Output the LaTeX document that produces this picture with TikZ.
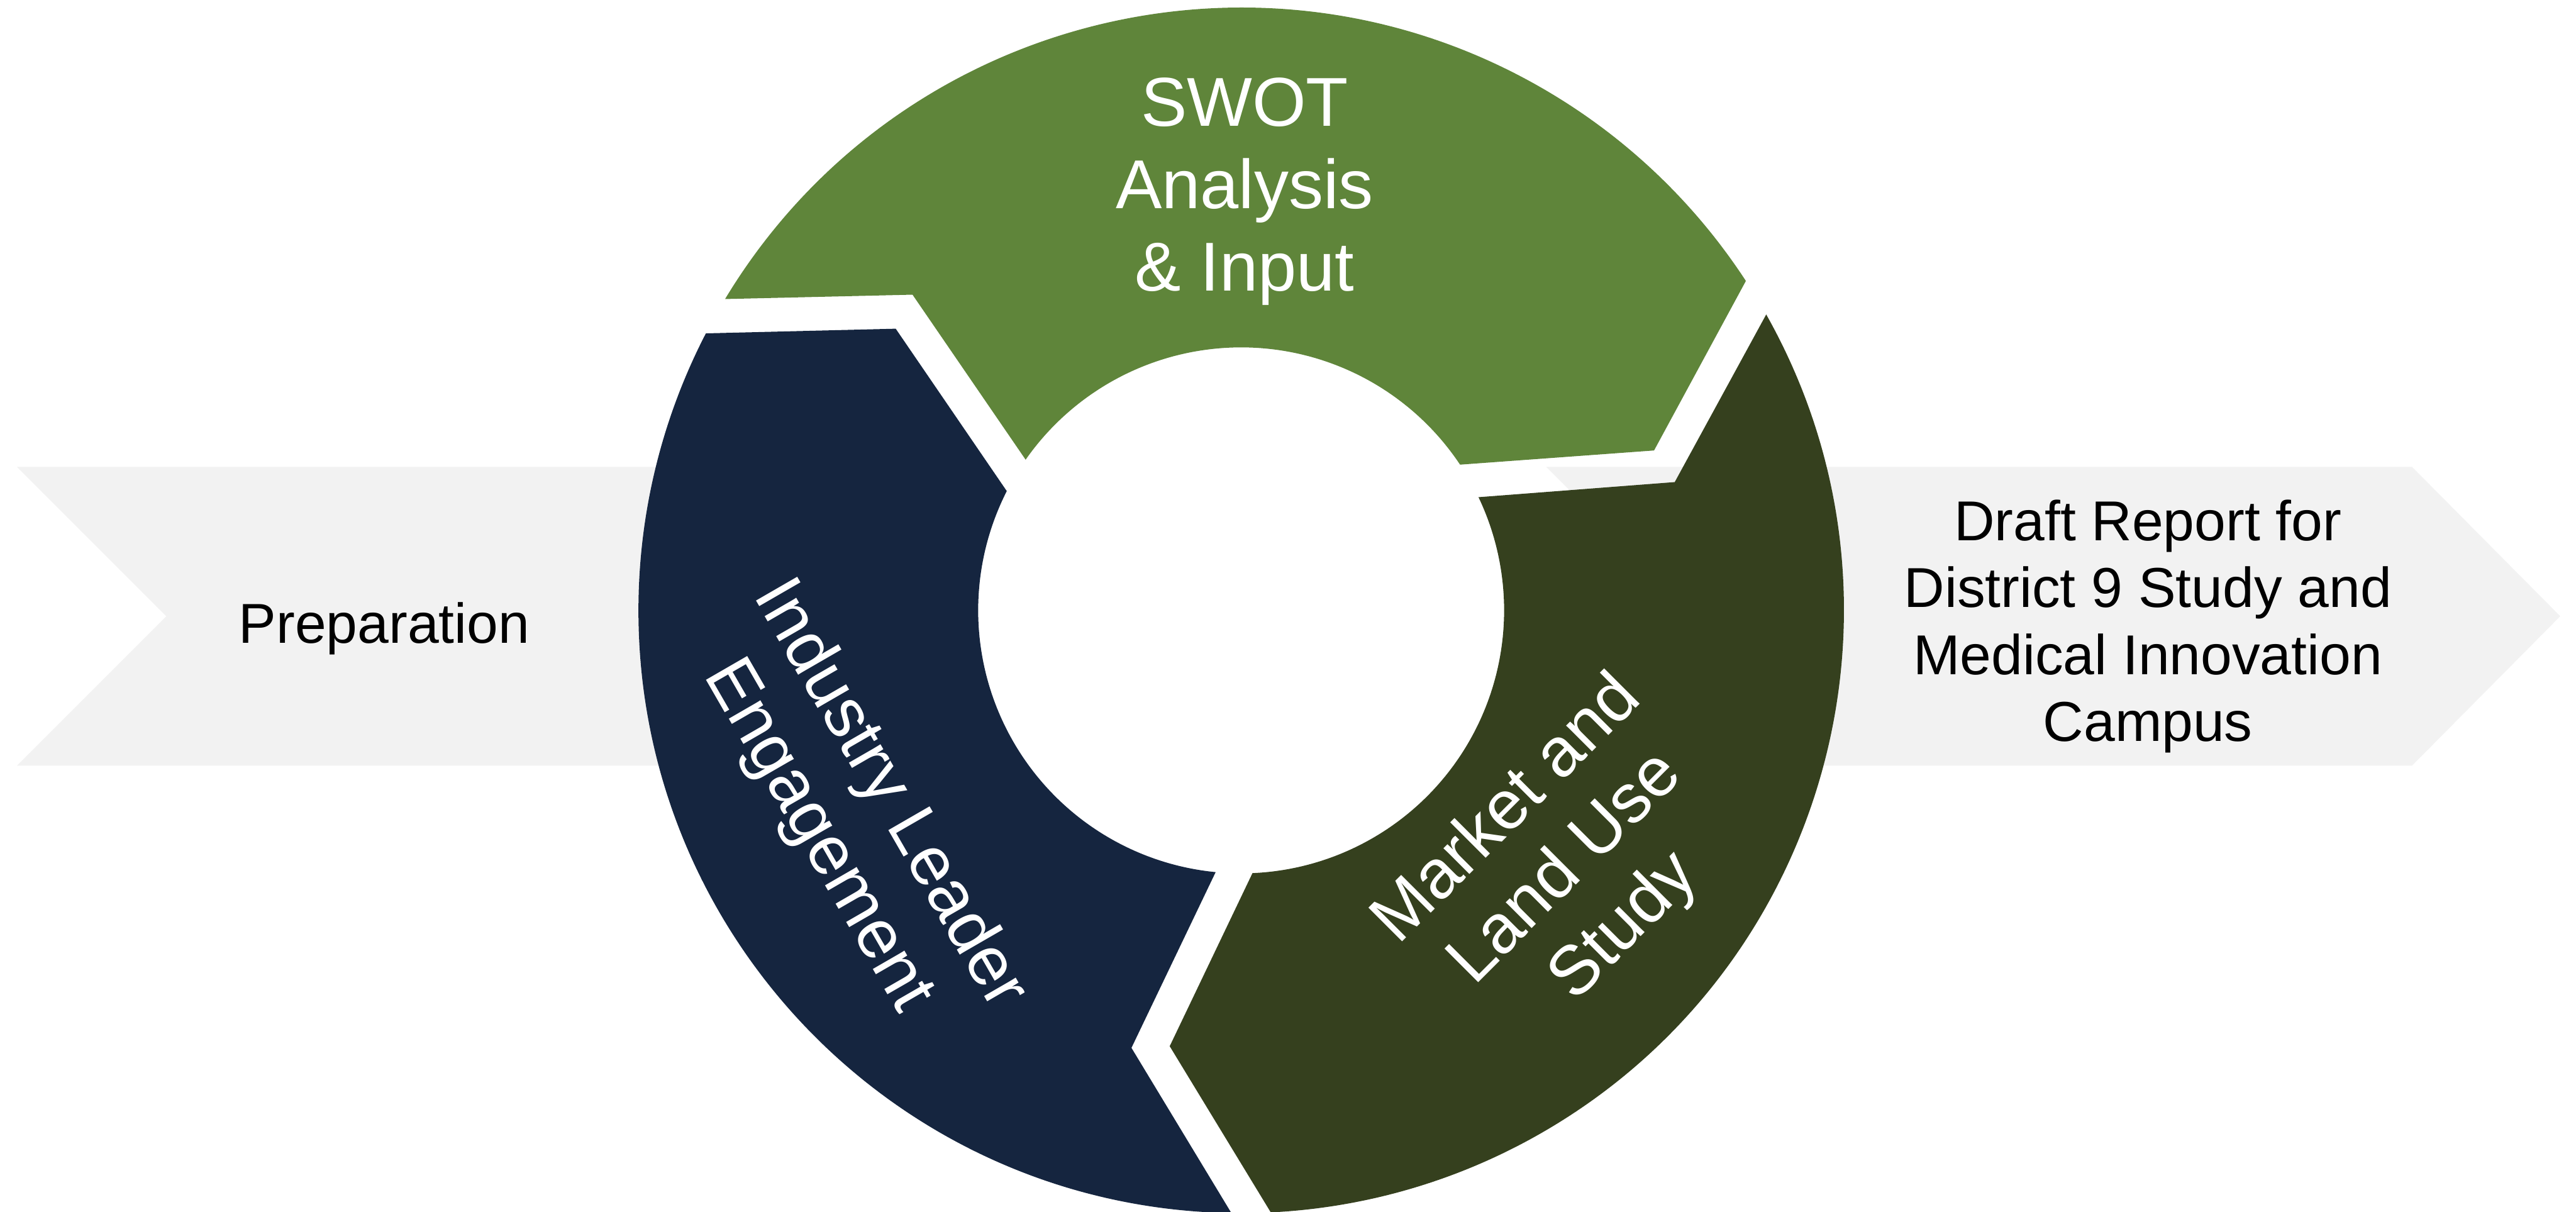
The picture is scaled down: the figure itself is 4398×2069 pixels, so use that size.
\documentclass[tikz,border=0pt]{standalone}
\usepackage{fontspec}
\setmainfont{Liberation Sans}
\definecolor{leaf}{RGB}{95,133,58}
\definecolor{moss}{RGB}{53,64,30}
\definecolor{navy}{RGB}{21,37,63}
\definecolor{band}{RGB}{242,242,242}
\begin{document}
\begin{tikzpicture}[x=0.01cm,y=-0.01cm,
  sidetext/.style={font=\fontsize{27.3pt}{32.5pt}\selectfont, text=black, inner sep=0pt, align=center},
  ringtext/.style={font=\fontsize{33.6pt}{40.1pt}\selectfont, text=white, inner sep=0pt, align=center}]
% page
\fill[white] (0,0) rectangle (4398,2069);
\useasboundingbox (0,0) rectangle (4398,2069);

% process chevrons behind the cycle
\fill[band] (29,797) -- (1350,797) -- (1605,1052) -- (1350,1307) -- (29,1307) -- (284,1052) -- cycle;
\fill[band] (2640,797) -- (4118,797) -- (4371,1052) -- (4118,1307) -- (2640,1307) -- (2895,1052) -- cycle;

% circular arrows, centred on the cycle hub
\begin{scope}[shift={(2119,1042)}]
  % top: SWOT
  \fill[leaf] (-148.9:1029) arc[start angle=-148.9, end angle=-33.13, radius=1029]
    -- (-21.17:756) -- (-33.65:449)
    arc[start angle=-33.65, end angle=-145.04, radius=449]
    -- (-136.15:778) -- cycle;
  % right: market study
  \fill[moss] (-29.4:1029) arc[start angle=-29.4, end angle=87.18, radius=1029]
    -- (99.31:754) -- (87.53:449)
    arc[start angle=87.53, end angle=-25.49, radius=449]
    -- (-16.48:772) -- cycle;
  % left: industry engagement
  \fill[navy] (90.93:1029) arc[start angle=90.93, end angle=207.36, radius=1029]
    -- (219.19:761) -- (206.97:449)
    arc[start angle=206.97, end angle=95.57, radius=449]
    -- (104.08:770) -- cycle;
\end{scope}

% labels
\node[sidetext, anchor=base] (prep) at (656,1097.5) {Preparation};
\node[sidetext] (draft) at (3667,1069.5) {Draft Report for\\District 9 Study and\\Medical Innovation\\Campus};
\node[ringtext] (swot) at (2125,327) {SWOT\\Analysis\\\& Input};
\node[ringtext, rotate=-60] (industry) at (1456,1392) {Industry Leader\\Engagement};
\node[ringtext, rotate=45] (market) at (2674.5,1483.5) {Market and\\Land Use\\Study};
\end{tikzpicture}
\end{document}
